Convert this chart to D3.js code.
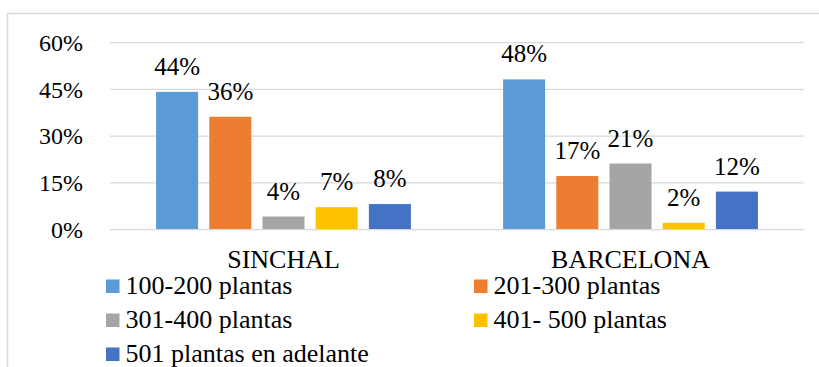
<!DOCTYPE html>
<html>
<head>
<meta charset="utf-8">
<script src="https://cdn.jsdelivr.net/npm/d3@7/dist/d3.min.js"></script>
<style>
  html, body { margin: 0; padding: 0; background: #fff; }
  svg text { font-family: 'Liberation Serif', 'Times New Roman', serif; }
</style>
</head>
<body>
<svg id="chart" width="819" height="367"></svg>
<script>
// Share of farms by number of plants, per community
const categories = ["SINCHAL", "BARCELONA"];
const seriesNames = ["100-200 plantas", "201-300 plantas", "301-400 plantas", "401- 500 plantas", "501 plantas en adelante"];
const sinchalValues = [44, 36, 4, 7, 8];
const barcelonaValues = [48, 17, 21, 2, 12];
const seriesColors = ["#5B9BD5", "#ED7D31", "#A5A5A5", "#FFC000", "#4472C4"];
const yTicks = [0, 15, 30, 45, 60];

const valuesByCategory = { "SINCHAL": sinchalValues, "BARCELONA": barcelonaValues };
const SERIF = "'Liberation Serif', 'Times New Roman', serif";

const svg = d3.select("#chart");

// outer frame
svg.append("rect")
  .attr("x", 7.5).attr("y", 13.5)
  .attr("width", 830).attr("height", 400)
  .attr("fill", "#fff")
  .attr("stroke", "#d9d9d9").attr("stroke-width", 1.5);

const plotLeft = 110, plotRight = 804, plotTop = 42, plotBottom = 229;

const y = d3.scaleLinear().domain([0, 60]).range([plotBottom, plotTop]);
const x0 = d3.scaleBand().domain(categories).range([plotLeft, plotRight])
  .paddingInner(0.2657).paddingOuter(0.2657 / 2);
const x1 = d3.scaleBand().domain(seriesNames).range([0, x0.bandwidth()])
  .paddingInner(0.21).paddingOuter(0);
const color = d3.scaleOrdinal().domain(seriesNames).range(seriesColors);

// horizontal gridlines + y tick labels via axis
const yAxis = d3.axisLeft(y).tickValues(yTicks).tickFormat(d => d + "%")
  .tickSize(-(plotRight - plotLeft)).tickPadding(27);
const gy = svg.append("g").attr("transform", `translate(${plotLeft},0)`).call(yAxis)
  .attr("font-family", null);
gy.select(".domain").remove();
gy.selectAll(".tick line").attr("stroke", "#d9d9d9").attr("stroke-width", 1.25);
gy.selectAll(".tick text")
  .attr("fill", "#000")
  .attr("font-size", 24)
  .style("font-family", SERIF)
  .attr("dy", "0.35em");

// bars
const groups = svg.append("g").selectAll("g")
  .data(categories).join("g")
  .attr("transform", d => `translate(${x0(d)},0)`);

const cells = groups.selectAll("g.bar")
  .data(cat => valuesByCategory[cat].map((v, i) => ({ name: seriesNames[i], value: v })))
  .join("g").attr("class", "bar");

cells.append("rect")
  .attr("x", d => x1(d.name))
  .attr("y", d => y(d.value))
  .attr("width", x1.bandwidth())
  .attr("height", d => y(0) - y(d.value))
  .attr("fill", d => color(d.name));

cells.append("text")
  .attr("x", d => x1(d.name) + x1.bandwidth() / 2)
  .attr("y", d => y(d.value) - 17)
  .attr("text-anchor", "middle")
  .attr("font-size", 25)
  .style("font-family", SERIF)
  .attr("fill", "#000")
  .text(d => d.value + "%");

// category labels
const xAxis = d3.axisBottom(x0).tickSize(0).tickPadding(0);
const gx = svg.append("g").attr("transform", `translate(0,${plotBottom})`).call(xAxis)
  .attr("font-family", null);
gx.select(".domain").remove();
gx.selectAll(".tick text")
  .attr("fill", "#000")
  .attr("font-size", 26)
  .style("font-family", SERIF)
  .attr("y", 39).attr("dy", 0);

// legend: two columns, row-major order
const legendCols = [106, 474];
const legendRows = [294, 328, 362];
const legend = svg.append("g").selectAll("g")
  .data(seriesNames).join("g")
  .attr("transform", (d, i) => `translate(${legendCols[i % 2]},${legendRows[Math.floor(i / 2)]})`);
legend.append("rect")
  .attr("x", 0).attr("y", -14.5)
  .attr("width", 13.5).attr("height", 13.5)
  .attr("fill", d => color(d));
legend.append("text")
  .attr("x", 19.5).attr("y", 0)
  .attr("font-size", 26)
  .style("font-family", SERIF)
  .attr("fill", "#000")
  .text(d => d);
</script>
</body>
</html>
